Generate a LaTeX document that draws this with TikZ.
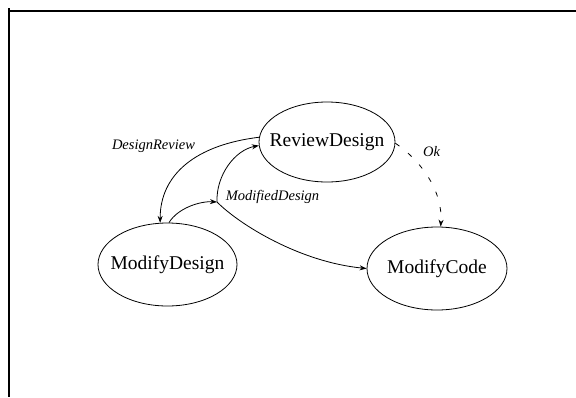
\documentclass[tikz,border=0pt]{standalone}
\usepackage{fontspec}
\setmainfont{Liberation Serif}
\usetikzlibrary{shapes.geometric,arrows.meta}

\tikzset{
  state/.style={draw, ellipse, line width=0.8pt, inner sep=0pt,
    font=\fontsize{19.5}{22}\selectfont},
  flow/.style={line width=0.8pt, -{Stealth[length=7pt,width=5pt]}},
  plain/.style={line width=0.8pt},
  edgelabel/.style={font=\fontsize{14.5}{17}\selectfont\itshape, inner sep=0pt},
  frame/.style={line width=2.2pt}
}

\begin{document}
\begin{tikzpicture}[x=1pt,y=-1pt]
  \useasboundingbox (0,0) rectangle (576,397);

  % page frame (top and left edges only)
  \coordinate (ftl) at (8.7,11);
  \coordinate (ftr) at (576,11);
  \coordinate (fbl) at (8.7,397);
  \coordinate (ftop) at (8.7,8);
  \draw[frame] (ftop) -- (fbl);
  \draw[frame] (ftl) -- (ftr);

  % states
  \node[state, minimum width=136pt, minimum height=80pt] (rd) at (327,142)
    {\makebox[0pt]{ReviewDesign}};
  \node[state, minimum width=139pt, minimum height=83pt] (md) at (167.5,264.5)
    {\makebox[0pt]{ModifyDesign}};
  \node[state, minimum width=140pt, minimum height=83pt] (mc) at (437,268.5)
    {\makebox[0pt]{ModifyCode}};

  % junction of the ModifiedDesign flow
  \coordinate (j) at (217,202);

  % transitions
  \draw[flow] (rd.176) .. controls (195,145) and (160,175) .. (md.100);
  \draw[flow] (md.88) .. controls (178,208) and (200,201) .. (j);
  \draw[flow] (j) .. controls (216,175) and (235,150) .. (rd.183);
  \draw[flow] (j) .. controls (240,225) and (300,262) .. (mc.180);
  \draw[flow, dash pattern=on 5pt off 11pt]
    (rd.-1) .. controls (420,160) and (443,190) .. (mc.85);

  % labels
  \node[edgelabel] (lbl1) at (153.5,146) {DesignReview};
  \node[edgelabel] (lbl2) at (272.5,197) {ModifiedDesign};
  \node[edgelabel] (lbl3) at (431.5,152) {Ok};
\end{tikzpicture}
\end{document}
